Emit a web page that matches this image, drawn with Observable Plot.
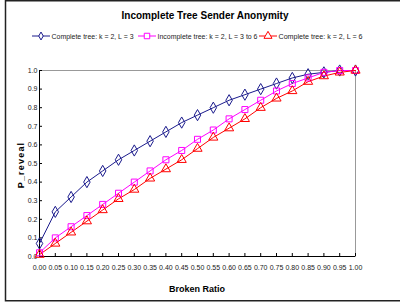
<!DOCTYPE html>
<html><head><meta charset="utf-8">
<script src="https://cdn.jsdelivr.net/npm/d3@7"></script>
<script src="https://cdn.jsdelivr.net/npm/@observablehq/plot@0.6"></script>
<style>body{margin:0;background:#fff}</style>
</head><body><div id="chart"></div>
<script>
const ratios = [0,0.05,0.1,0.15,0.2,0.25,0.3,0.35,0.4,0.45,0.5,0.55,0.6,0.65,0.7,0.75,0.8,0.85,0.9,0.95,1.0];
const completeL3 = [0.07,0.24,0.32,0.40,0.46,0.52,0.57,0.62,0.67,0.72,0.76,0.80,0.84,0.87,0.90,0.93,0.96,0.98,0.99,1.0,1.0];
const incompleteL3to6 = [0.02,0.10,0.16,0.22,0.28,0.34,0.40,0.46,0.52,0.57,0.63,0.68,0.74,0.79,0.84,0.89,0.93,0.96,0.99,1.0,1.0];
const completeL6 = [0.01,0.07,0.13,0.19,0.25,0.31,0.36,0.42,0.47,0.52,0.58,0.64,0.69,0.74,0.80,0.85,0.89,0.94,0.97,0.99,1.0];
const seriesNames = ["Complete tree: k = 2, L = 3","Incomplete tree: k = 2, L = 3 to 6","Complete tree: k = 2, L = 6"];
const seriesColors = ["#1a1a8c","#ff00ff","#ff0000"];
const seriesSymbols = ["diamond","square","triangle"];
const xTicks = ratios;
const yTicks = [0,0.1,0.2,0.3,0.4,0.5,0.6,0.7,0.8,0.9,1.0];

const allValues = [completeL3, incompleteL3to6, completeL6];
const data = [];
allValues.forEach((vals, s) => vals.forEach((v, i) => data.push({x: ratios[i], y: v, s})));

const FONT = "'Liberation Sans Narrow','Arial Narrow','Liberation Sans',Arial,sans-serif";
const W = 400, H = 304, ML = 39, MR = 45, MT = 70, MB = 48;

const marks = [];
allValues.forEach((vals, s) => {
  const d = data.filter(p => p.s === s);
  marks.push(Plot.line(d, {x: "x", y: "y", stroke: seriesColors[s], strokeWidth: 1}));
});
allValues.forEach((vals, s) => {
  const d = data.filter(p => p.s === s);
  marks.push(Plot.dot(d, {x: "x", y: "y", stroke: seriesColors[s], fill: "none", symbol: () => seriesSymbols[s], r: 3.4, strokeWidth: 1}));
});

const plot = Plot.plot({
  width: W, height: H,
  marginLeft: ML, marginRight: MR, marginTop: MT, marginBottom: MB,
  style: {fontFamily: FONT, background: "white", overflow: "visible"},
  x: {domain: [0, 1], ticks: xTicks, tickFormat: d3.format(".2f"), label: null},
  y: {domain: [0, 1], ticks: yTicks, tickFormat: d3.format(".1f"), label: null},
  symbol: {type: "identity"},
  marks: [
    Plot.frame({stroke: "#999", strokeWidth: 1}),
    Plot.axisX({ticks: xTicks, tickFormat: d3.format(".2f"), tickSize: -3, tickPadding: 12, fontSize: 7, stroke: "#000", fill: "#222"}),
    Plot.axisY({ticks: yTicks, tickFormat: d3.format(".1f"), tickSize: -3, tickPadding: 5, fontSize: 7, stroke: "#000", fill: "#222"}),
    Plot.ruleX([0], {stroke: "#000"}),
    Plot.ruleY([0], {stroke: "#000"}),
    ...marks
  ]
});
document.getElementById("chart").appendChild(plot);

const svg = d3.select(plot);
// outer border
svg.append("path").attr("d", `M${W+2},0.75 H5.5 V300.75 H${W+2}`).attr("fill","none").attr("stroke","#222").attr("stroke-width",1.5);
// title
svg.append("text").attr("x", 205).attr("y", 19).attr("text-anchor","middle")
  .attr("font-family","'Liberation Sans',Arial,sans-serif").attr("font-weight","bold").attr("font-size",10).text("Incomplete Tree Sender Anonymity");
// legend
const legX = [32, 138, 259];
const legLen = [82, 100, 84];
const legSize = [18, 30, 28];
seriesNames.forEach((name, s) => {
  const g = svg.append("g").attr("transform", `translate(${legX[s]},36)`);
  g.append("line").attr("x1",0).attr("x2",18).attr("y1",0).attr("y2",0).attr("stroke",seriesColors[s]).attr("stroke-width",1);
  g.append("path").attr("transform","translate(9,0)")
    .attr("d", d3.symbol(s===0?d3.symbolDiamond:s===1?d3.symbolSquare:d3.symbolTriangle, legSize[s])())
    .attr("fill","white").attr("stroke",seriesColors[s]).attr("stroke-width",1);
  g.append("text").attr("x",19.5).attr("y",2.7).attr("text-anchor","start")
    .attr("font-family",FONT).attr("font-size",8).attr("fill","#222")
    .attr("textLength", legLen[s]).attr("lengthAdjust","spacingAndGlyphs").text(name);
});
// axis titles
svg.append("text").attr("x", 197).attr("y", 292).attr("text-anchor","middle")
  .attr("font-family","'Liberation Sans',Arial,sans-serif").attr("font-weight","bold").attr("font-size",9).text("Broken Ratio");
svg.append("text").attr("transform","translate(24,165) rotate(-90)").attr("text-anchor","middle")
  .attr("font-family","'Liberation Sans',Arial,sans-serif").attr("font-weight","bold").attr("font-size",9)
  .attr("letter-spacing","1.2px").text("P_reveal");
</script></body></html>
